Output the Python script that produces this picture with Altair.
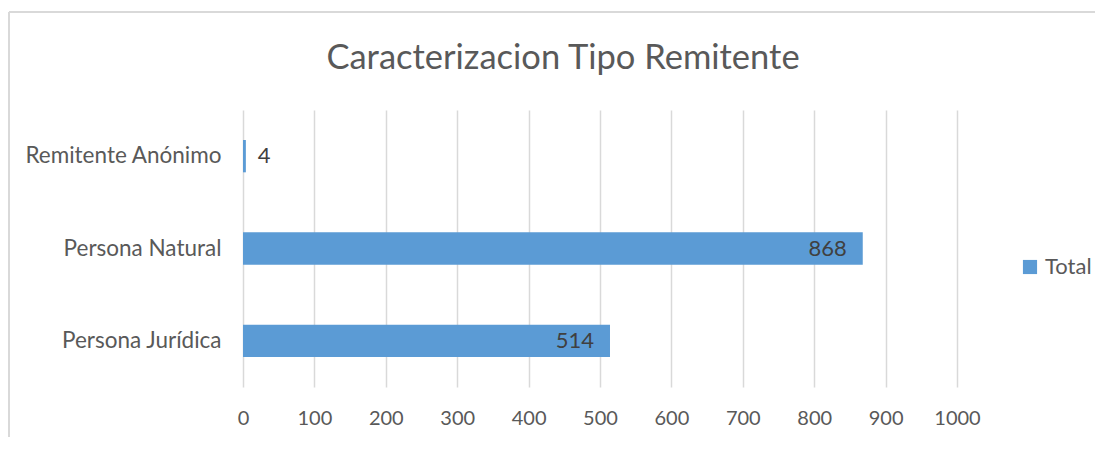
import altair as alt
import pandas as pd

categories = ["Remitente Anónimo", "Persona Natural", "Persona Jurídica"]
values = [4, 868, 514]
series_name = "Total"
x_ticks = [0, 100, 200, 300, 400, 500, 600, 700, 800, 900, 1000]

df = pd.DataFrame({"cat": categories, "val": values, "serie": [series_name] * 3})

FONT = "Lato"
GREY = "#595959"
W, H = 714, 277

y_enc = alt.Y("cat:N", sort=categories, title=None,
              scale=alt.Scale(paddingInner=0.65, paddingOuter=0.325),
              axis=alt.Axis(labelFontSize=22.5, labelColor=GREY, labelFont=FONT, labelLimit=400,
                            labelPadding=22, ticks=False, domain=False, grid=False))
x_enc = alt.X("val:Q", title=None,
              scale=alt.Scale(domain=[0, 1000], nice=False),
              axis=alt.Axis(values=x_ticks, format="d", labelFlush=False,
                            labelFontSize=20, labelColor=GREY, labelFont=FONT,
                            labelPadding=21, ticks=False, domain=False,
                            grid=True, gridColor="#d9d9d9", gridWidth=1.5))

frame_top = alt.Chart(df).mark_rule(stroke="#d9d9d9", strokeWidth=1.5).encode(
    x=alt.value(-234), x2=alt.value(852), y=alt.value(-98)
)
frame_left = alt.Chart(df).mark_rule(stroke="#d9d9d9", strokeWidth=1.5).encode(
    x=alt.value(-234), y=alt.value(-98), y2=alt.value(332)
)

bars = alt.Chart(df).mark_bar(color="#5b9bd5").encode(
    y=y_enc, x=x_enc,
    color=alt.Color("serie:N", title=None,
                    scale=alt.Scale(domain=[series_name], range=["#5b9bd5"]),
                    legend=alt.Legend(orient="none", legendX=776, legendY=146,
                                      symbolType="square", symbolSize=200,
                                      labelFontSize=22, labelColor=GREY, labelFont=FONT,
                                      labelOffset=4))
)

inside = alt.Chart(df).transform_filter("datum.val >= 100").mark_text(
    align="right", baseline="middle", dx=-16, fontSize=22, color="#404040", font=FONT
).encode(y=alt.Y("cat:N", sort=categories), x="val:Q", text="val:Q")

outside = alt.Chart(df).transform_filter("datum.val < 100").mark_text(
    align="left", baseline="middle", dx=12, fontSize=22, color="#404040", font=FONT
).encode(y=alt.Y("cat:N", sort=categories), x="val:Q", text="val:Q")

chart = alt.layer(frame_top, frame_left, bars, inside, outside).properties(
    width=W, height=H,
    title=alt.TitleParams("Caracterizacion Tipo Remitente", fontSize=34.5, font=FONT,
                          fontWeight="normal", color=GREY, anchor="middle", frame="group",
                          dx=-37, offset=-65),
    autosize=alt.AutoSizeParams(type="none"),
    padding={"left": 235, "top": 102, "right": 139, "bottom": 50},
).configure_view(stroke=None)

chart.save("out.html", embed_options={"renderer": "svg", "actions": False})
